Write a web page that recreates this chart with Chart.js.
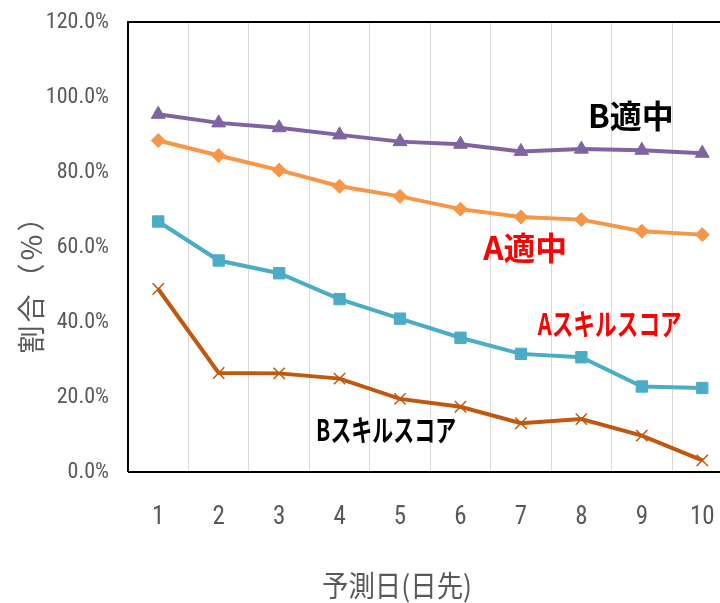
<!DOCTYPE html>
<html lang="ja">
<head>
<meta charset="UTF-8">
<script src="https://cdn.jsdelivr.net/npm/chart.js@4.4.0/dist/chart.umd.min.js"></script>
<style>
  body { margin: 0; background: #fff; overflow: hidden; }
  #wrap { width: 720px; height: 603px; overflow: hidden; }
</style>
</head>
<body>
<div id="wrap"><canvas id="myChart" width="742" height="603"></canvas></div>
<script>
const days = ['1', '2', '3', '4', '5', '6', '7', '8', '9', '10'];
const bHit = [95.4, 93.1, 91.8, 89.9, 88.1, 87.4, 85.5, 86.1, 85.8, 85.0];
const aHit = [88.4, 84.4, 80.5, 76.2, 73.5, 70.1, 68.0, 67.3, 64.2, 63.3];
const aSkill = [66.8, 56.4, 53.0, 46.1, 40.9, 35.8, 31.5, 30.6, 22.8, 22.4];
const bSkill = [48.8, 26.4, 26.3, 24.9, 19.5, 17.4, 13.0, 14.1, 9.7, 3.1];

// labels written on the plot: [text, category index, value, colour, max width]
const notes = [
  ['B適中', 7.82, 95.0, '#000000', 88],
  ['A適中', 6.07, 59.7, '#FF0000', 84],
  ['Aスキルスコア', 7.47, 39.7, '#FF0000', 144],
  ['Bスキルスコア', 3.77, 11.3, '#000000', 140]
];

const jp = '"Noto Sans CJK JP", "Noto Sans", sans-serif';
const narrow = '"Liberation Sans Narrow", "Roboto Condensed", "DejaVu Sans Condensed", sans-serif';

const notePlugin = {
  id: 'notes',
  afterDraw(chart) {
    const ctx = chart.ctx;
    const x = chart.scales.x, y = chart.scales.y;
    const a = chart.chartArea;
    ctx.save();
    // black frame on left, top and bottom
    ctx.strokeStyle = '#000';
    ctx.lineWidth = 2;
    ctx.beginPath();
    ctx.moveTo(a.left, a.bottom);
    ctx.lineTo(a.left, a.top);
    ctx.lineTo(a.right, a.top);
    ctx.moveTo(a.left, a.bottom);
    ctx.lineTo(a.right, a.bottom);
    ctx.stroke();
    ctx.textAlign = 'center';
    ctx.textBaseline = 'middle';
    notes.forEach(n => {
      const long = n[0].length > 3;
      ctx.font = 'bold ' + (long ? 30 : 32) + 'px ' + jp;
      ctx.fillStyle = n[3];
      ctx.fillText(n[0], x.getPixelForValue(n[1]), y.getPixelForValue(n[2]), n[4]);
    });
    // axis titles
    ctx.fillStyle = '#595959';
    ctx.font = '29px ' + jp;
    ctx.fillText('予測日(日先)', 397, 586, 150);
    ctx.translate(31, 277);
    ctx.rotate(-Math.PI / 2);
    ctx.font = '28px ' + jp;
    ctx.letterSpacing = '3px';
    ctx.fillText('割合（%）', 0, 0);
    ctx.restore();
  }
};

function series(label, data, color, style, radius) {
  return {
    label: label,
    data: data,
    borderColor: color,
    backgroundColor: color,
    borderWidth: 4,
    pointStyle: style,
    pointRadius: radius,
    pointBorderWidth: style === 'crossRot' ? 1.5 : 1,
    pointBorderColor: color,
    pointBackgroundColor: color,
    tension: 0
  };
}

new Chart(document.getElementById('myChart').getContext('2d'), {
  type: 'line',
  data: {
    labels: days,
    datasets: [
      series('B適中', bHit, '#8064A2', 'triangle', 8),
      series('A適中', aHit, '#F79646', 'rectRot', 7),
      series('Aスキルスコア', aSkill, '#4BACC6', 'rect', 8),
      series('Bスキルスコア', bSkill, '#C0580F', 'crossRot', 8)
    ]
  },
  options: {
    responsive: false,
    animation: false,
    layout: { padding: { top: 22, right: 1, left: 0, bottom: 0 } },
    plugins: { legend: { display: false }, tooltip: { enabled: false } },
    scales: {
      x: {
        offset: true,
        grid: { color: '#D9D9D9', lineWidth: 1, offset: true, drawTicks: false },
        border: { display: false },
        ticks: { color: '#595959', font: { family: narrow, size: 25 }, padding: 31 },
        afterFit: s => { s.height = 131; s.paddingLeft = 0; s.paddingRight = 0; }
      },
      y: {
        min: 0, max: 120,
        grid: { display: false, drawTicks: false },
        border: { display: false },
        ticks: {
          stepSize: 20, color: '#595959', font: { family: narrow, size: 22 }, padding: 19,
          callback: v => v.toFixed(1) + '%'
        },
        afterFit: s => { s.width = 128; s.paddingTop = 0; s.paddingBottom = 0; }
      }
    }
  },
  plugins: [notePlugin]
});
</script>
</body>
</html>
